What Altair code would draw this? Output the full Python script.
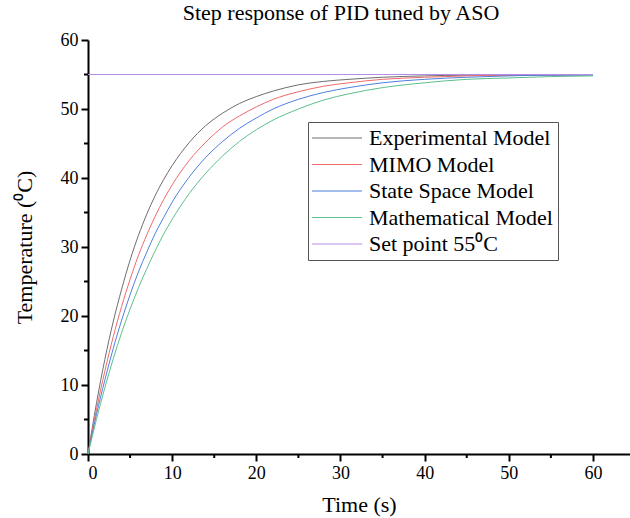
import altair as alt
import pandas as pd

# ---- data ----
time_s = [0, 1, 2, 3, 4, 5, 6, 7, 8, 9, 10, 12, 14, 16, 18, 20, 22, 25, 28, 31, 35, 40, 45, 50, 55, 60]
experimental = [0, 7.3, 13.7, 19.2, 23.9, 28.1, 31.7, 34.8, 37.5, 39.8, 41.8, 45.1, 47.6, 49.4, 50.8, 51.8,
                52.6, 53.5, 54.0, 54.3, 54.6, 54.8, 54.9, 54.9, 55.0, 55.0]
mimo = [0, 6.4, 12.0, 17.0, 21.4, 25.3, 28.8, 31.8, 34.5, 36.9, 39.0, 42.5, 45.2, 47.4, 49.0, 50.3,
        51.4, 52.5, 53.3, 53.8, 54.3, 54.6, 54.8, 54.9, 54.9, 55.0]
state_space = [0, 5.7, 10.7, 15.3, 19.4, 23.1, 26.4, 29.3, 32.0, 34.3, 36.5, 40.1, 43.0, 45.3, 47.2, 48.7,
               50.0, 51.4, 52.4, 53.1, 53.8, 54.3, 54.6, 54.8, 54.9, 54.9]
mathematical = [0, 5.0, 9.6, 13.8, 17.6, 21.0, 24.1, 26.9, 29.5, 31.9, 34.0, 37.7, 40.7, 43.2, 45.3, 47.0,
                48.4, 50.0, 51.3, 52.2, 53.1, 53.8, 54.3, 54.5, 54.7, 54.8]
setpoint_time = [0, 60]
setpoint = [55, 55]

series_names = ["Experimental Model", "MIMO Model", "State Space Model",
                "Mathematical Model", "Set point 55\u2070C"]
series_colors = ["#6e6e6e", "#ee6b6b", "#4f7fe0", "#5cbf8c", "#b58de6"]

x_major = [0, 10, 20, 30, 40, 50, 60]
x_minor = [5, 15, 25, 35, 45, 55]
y_major = [0, 10, 20, 30, 40, 50, 60]
y_minor = [5, 15, 25, 35, 45, 55]

# ---- build table ----
rows = []
for name, vals in zip(series_names[:4], [experimental, mimo, state_space, mathematical]):
    for t, v in zip(time_s, vals):
        rows.append({"time": t, "temp": v, "series": name})
for t, v in zip(setpoint_time, setpoint):
    rows.append({"time": t, "temp": v, "series": series_names[4]})
df = pd.DataFrame(rows)

FONT = "Liberation Serif"
W, H = 542, 414

xscale = alt.Scale(domain=[0, 64.4], nice=False, zero=False)
yscale = alt.Scale(domain=[0, 60], nice=False)

lines = alt.Chart(df).mark_line(strokeWidth=1.0, interpolate="monotone").encode(
    x=alt.X("time:Q", scale=xscale,
            axis=alt.Axis(values=x_major, title="Time (s)", titlePadding=12)),
    y=alt.Y("temp:Q", scale=yscale,
            axis=alt.Axis(values=y_major, title="Temperature (\u2070C)", titlePadding=24)),
    color=alt.Color("series:N",
                    scale=alt.Scale(domain=series_names, range=series_colors),
                    legend=alt.Legend(title=None, orient="none", legendX=220, legendY=82,
                                      symbolType="M-5,0H5", symbolSize=100,
                                      symbolOffset=13,
                                      symbolStrokeWidth=1.2, labelFont=FONT,
                                      labelFontSize=22, labelColor="black",
                                      labelLimit=0,
                                      labelOffset=21, rowPadding=4.5, padding=5,
                                      strokeColor="#555555", fillColor="white")),
    order=alt.Order("time:Q"),
)

xminor_df = pd.DataFrame({"v": x_minor})
yminor_df = pd.DataFrame({"v": y_minor})

xminor = alt.Chart(xminor_df).mark_rule(color="black", strokeWidth=2).encode(
    x=alt.X("v:Q", scale=xscale),
    y=alt.value(H), y2=alt.value(H + 4),
)
yminor = alt.Chart(yminor_df).mark_rule(color="black", strokeWidth=2).encode(
    y=alt.Y("v:Q", scale=yscale),
    x=alt.value(0), x2=alt.value(-4),
)

chart = alt.layer(lines, xminor, yminor).properties(
    width=W, height=H,
    title=alt.TitleParams("Step response of PID tuned by ASO", font=FONT, fontSize=22,
                          fontWeight="normal", color="black", anchor="middle",
                          frame="group", offset=6, dx=-18),
    padding={"left": 88, "top": 40, "right": 0, "bottom": 64},
    autosize=alt.AutoSizeParams(type="none"),
).configure_view(stroke=None).configure_axis(
    domainColor="black", domainWidth=2, tickColor="black", tickWidth=2, tickSize=7,
    labelFont=FONT, labelFontSize=18, labelColor="black", labelPadding=3,
    titleFont=FONT, titleFontSize=22, titleFontWeight="normal", titleColor="black",
    grid=False,
)

chart.save("out.html", embed_options={"renderer": "svg", "actions": False})
